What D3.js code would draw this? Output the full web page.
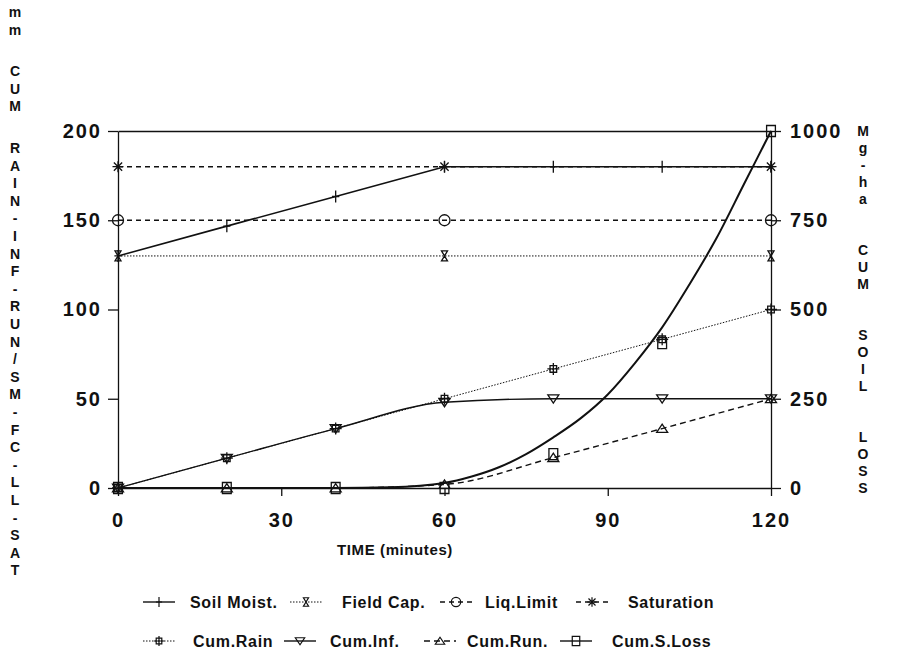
<!DOCTYPE html>
<html>
<head>
<meta charset="utf-8">
<script src="https://cdn.jsdelivr.net/npm/d3@7"></script>
<style>
  body { margin: 0; background: #fff; }
  svg { font-family: "Liberation Sans", Arial, sans-serif; font-weight: bold; }
</style>
</head>
<body>
<div id="wrapper"></div>
<script>
// Data
const times = [0, 20, 40, 60, 80, 100, 120];
const soilMoist = [130, 146.7, 163.3, 180, 180, 180, 180];
const limitTimes = [0, 60, 120];
const fieldCap = [130, 130, 130];
const liqLimit = [150, 150, 150];
const saturation = [180, 180, 180];
const cumRain = [0, 16.7, 33.3, 50, 66.7, 83.3, 100];
const cumInf = [0, 16.7, 33.3, 48, 50, 50, 50];
const cumRun = [0, 0, 0, 2, 17, 33.3, 50];
// soil loss (right axis): markers and fitted curve
const sLossMarks = [0, 0, 0, 0, 95, 406, 1000];
const sLossCurveTimes = [0, 20, 40, 50, 60, 65, 70, 75, 80, 85, 90, 95, 100, 105, 110, 115, 120];
const sLossCurve = [0, 0, 0, 2, 14, 32, 58, 95, 142, 195, 262, 350, 450, 570, 700, 850, 1000];

const leftTicks = [0, 50, 100, 150, 200];
const rightTicks = [0, 250, 500, 750, 1000];
const timeTicks = [0, 30, 60, 90, 120];
const leftTitle = "mm CUM RAIN-INF-RUN/SM-FC-LL-SAT";
const rightTitle = "Mg-ha CUM SOIL LOSS";

const W = 902, H = 658;
const ink = "#111";

const svg = d3.select("#wrapper").append("svg")
  .attr("width", W).attr("height", H);

// scales
const x = d3.scaleLinear().domain([0, 120]).range([118, 771]);
const yL = d3.scaleLinear().domain([0, 200]).range([488, 131]);
const yR = d3.scaleLinear().domain([0, 1000]).range([488, 131]);

// axes
function styleAxis(g) {
  g.select(".domain").attr("stroke", ink).attr("stroke-width", 1.3);
  g.selectAll(".tick line").attr("stroke", ink).attr("stroke-width", 1.3);
  g.selectAll(".tick text").attr("fill", ink).style("font-size", "20px")
    .style("font-weight", "bold").style("letter-spacing", "2px");
}

svg.append("g").attr("transform", "translate(118,0)")
  .call(d3.axisLeft(yL).tickValues(leftTicks).tickSize(10).tickSizeOuter(0).tickPadding(6))
  .call(styleAxis);

svg.append("g").attr("transform", "translate(771,0)")
  .call(d3.axisRight(yR).tickValues(rightTicks).tickFormat(d3.format("d"))
    .tickSize(10).tickSizeOuter(0).tickPadding(9))
  .call(styleAxis);

svg.append("g").attr("transform", "translate(0,488)")
  .call(d3.axisBottom(x).tickValues(timeTicks).tickSize(8).tickSizeOuter(0).tickPadding(17))
  .call(styleAxis);

svg.append("g").attr("transform", "translate(0,131)")
  .call(d3.axisTop(x).tickValues([]).tickSizeOuter(0))
  .call(styleAxis);

// axis titles
svg.append("text").attr("x", 395).attr("y", 555).attr("text-anchor", "middle")
  .attr("fill", ink).style("font-size", "15px").style("letter-spacing", "0.6px")
  .text("TIME (minutes)");

function stackText(str, cx, y0, step, gap) {
  let y = y0;
  const g = svg.append("g");
  for (const ch of str) {
    if (ch === " ") { y += gap; continue; }
    g.append("text").attr("x", cx).attr("y", y).attr("dy", "0.35em").attr("text-anchor", "middle")
      .attr("fill", ink).style("font-size", "14px").text(ch);
    y += step;
  }
}
stackText(leftTitle, 15, 12, 17.6, 24);
stackText(rightTitle, 863, 131, 17, 34);

// marker shapes (path strings centred on 0,0)
const shapes = {
  plus: s => `M0,${-s}V${s}M${-s * 0.6},0H${s * 0.6}`,
  hourglass: s => `M${-s * 0.6},${-s}H${s * 0.6}L${-s * 0.6},${s}H${s * 0.6}Z`,
  circle: s => `M${s},0A${s},${s} 0 1,1 ${-s},0A${s},${s} 0 1,1 ${s},0`,
  star: s => `M0,${-s}V${s}M${-s},0H${s}M${-s * 0.75},${-s * 0.75}L${s * 0.75},${s * 0.75}M${-s * 0.75},${s * 0.75}L${s * 0.75},${-s * 0.75}`,
  boxCross: s => `M0,${-s}V${s}M${-s},0H${s}M${-s * 0.55},${-s * 0.55}H${s * 0.55}V${s * 0.55}H${-s * 0.55}Z`,
  triDown: s => `M${-s},${-s * 0.7}H${s}L0,${s * 0.8}Z`,
  triUp: s => `M${-s},${s * 0.7}H${s}L0,${-s * 0.8}Z`,
  square: s => `M${-s * 0.8},${-s}H${s * 0.8}V${s}H${-s * 0.8}Z`
};

const series = [
  { name: "Soil Moist.", t: times, v: soilMoist, y: yL, dash: null, w: 1.6, shape: "plus", size: 6 },
  { name: "Field Cap.", t: limitTimes, v: fieldCap, y: yL, dash: "1.5,1.5", w: 1, shape: "hourglass", size: 5 },
  { name: "Liq.Limit", t: limitTimes, v: liqLimit, y: yL, dash: "5,4", w: 1.4, shape: "circle", size: 5.5 },
  { name: "Saturation", t: limitTimes, v: saturation, y: yL, dash: "5,4", w: 1.4, shape: "star", size: 5.5 },
  { name: "Cum.Rain", t: times, v: cumRain, y: yL, dash: "1.5,1.5", w: 1, shape: "boxCross", size: 6 },
  { name: "Cum.Inf.", t: times, v: cumInf, y: yL, dash: null, w: 1.4, shape: "triDown", size: 5.5, curve: true },
  { name: "Cum.Run.", t: times, v: cumRun, y: yL, dash: "6,4", w: 1.4, shape: "triUp", size: 5.5, curve: true },
  { name: "Cum.S.Loss", t: times, v: sLossMarks, y: yR, dash: null, w: 2, shape: "square", size: 5.5,
    lineT: sLossCurveTimes, lineV: sLossCurve, curve: true }
];

const plot = svg.append("g");
series.forEach(s => {
  const lt = s.lineT || s.t, lv = s.lineV || s.v;
  const line = d3.line()
    .x(d => x(d[0])).y(d => s.y(d[1]))
    .curve(s.curve ? d3.curveMonotoneX : d3.curveLinear);
  plot.append("path")
    .attr("d", line(lt.map((t, i) => [t, lv[i]])))
    .attr("fill", "none").attr("stroke", ink).attr("stroke-width", s.w)
    .attr("stroke-dasharray", s.dash);
  plot.selectAll(null).data(s.t.map((t, i) => [t, s.v[i]])).join("path")
    .attr("transform", d => `translate(${x(d[0])},${s.y(d[1])})`)
    .attr("d", shapes[s.shape](s.size))
    .attr("fill", "none").attr("stroke", ink).attr("stroke-width", 1.3);
});

// legend
const legendPos = [
  { sx: 143, tx: 190, y: 602 }, { sx: 290, tx: 342, y: 602 },
  { sx: 440, tx: 485, y: 602 }, { sx: 576, tx: 628, y: 602 },
  { sx: 143, tx: 193, y: 641 }, { sx: 284, tx: 330, y: 641 },
  { sx: 424, tx: 467, y: 641 }, { sx: 560, tx: 612, y: 641 }
];
const legend = svg.append("g");
series.forEach((s, i) => {
  const p = legendPos[i];
  const len = 32;
  legend.append("line").attr("x1", p.sx).attr("x2", p.sx + len)
    .attr("y1", p.y).attr("y2", p.y)
    .attr("stroke", ink).attr("stroke-width", Math.min(s.w, 1.4))
    .attr("stroke-dasharray", s.dash);
  legend.append("path").attr("transform", `translate(${p.sx + len / 2},${p.y})`)
    .attr("d", shapes[s.shape](s.size * 0.85))
    .attr("fill", "none").attr("stroke", ink).attr("stroke-width", 1.2);
  legend.append("text").attr("x", p.tx).attr("y", p.y).attr("dy", "0.35em")
    .attr("fill", ink).style("font-size", "16px").style("letter-spacing", "0.7px")
    .text(s.name);
});
</script>
</body>
</html>
